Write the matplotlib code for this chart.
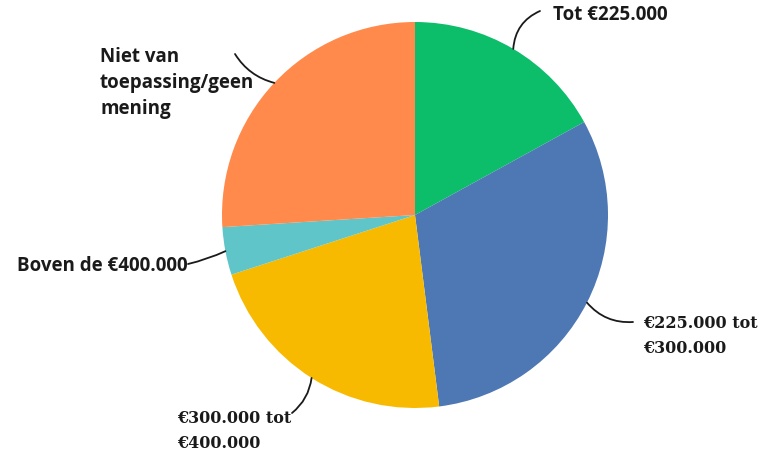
import numpy as np
import matplotlib
matplotlib.use("Agg")
import matplotlib.pyplot as plt

categories = ["Tot €225.000", "€225.000 tot\n€300.000", "€300.000 tot\n€400.000",
              "Boven de €400.000", "Niet van\ntoepassing/geen\nmening"]
values = [17, 31, 22, 4, 26]
colors = ["#0CBD6A", "#4E78B3", "#F8BA00", "#5FC5C9", "#FF8A4B"]
serif_flags = [False, True, True, False, False]

W, H = 760, 457
fig = plt.figure(figsize=(7.6, 4.57), dpi=100)
ax = fig.add_axes([0, 0, 1, 1])

cx, cy, r = 415, H - 215, 193
wedges, _ = ax.pie(values, colors=colors, startangle=90, counterclock=False,
                   center=(cx, cy), radius=r, frame=True,
                   wedgeprops=dict(linewidth=0))
ax.set_xlim(0, W)
ax.set_ylim(0, H)
ax.set_aspect("equal")
ax.axis("off")

# layout: (line end x, y), text x, text y, ha, rad
layout = [
    ((540, 11), 553, 15, "left", 0.3),
    ((633, 322), 643, 336, "left", -0.25),
    ((292, 413), 177, 431, "left", 0.2),
    ((188, 264), 188, 266, "right", 0.05),
    ((235, 54), 100, 83, "left", 0.2),
]

for w, cat, ser, (end, tx, ty, ha, rad) in zip(wedges, categories, serif_flags, layout):
    mid = np.deg2rad((w.theta1 + w.theta2) / 2)
    px, py = cx + r * np.cos(mid), cy + r * np.sin(mid)
    ax.annotate("", xy=(px, py), xytext=(end[0], H - end[1]),
                arrowprops=dict(arrowstyle="-", color="#1a1a1a", lw=1.3,
                                connectionstyle=f"arc3,rad={rad}",
                                shrinkA=0, shrinkB=0))
    if ser:
        ax.text(tx, H - ty, cat, ha=ha, va="center", fontsize=11.5,
                family="DejaVu Serif", weight="bold", color="#1a1a1a",
                linespacing=1.6)
    else:
        ax.text(tx, H - ty, cat, ha=ha, va="center", fontsize=13.5,
                family="Open Sans", weight="bold", color="#1a1a1a",
                linespacing=1.4)

fig.savefig("out.png", dpi=100)
